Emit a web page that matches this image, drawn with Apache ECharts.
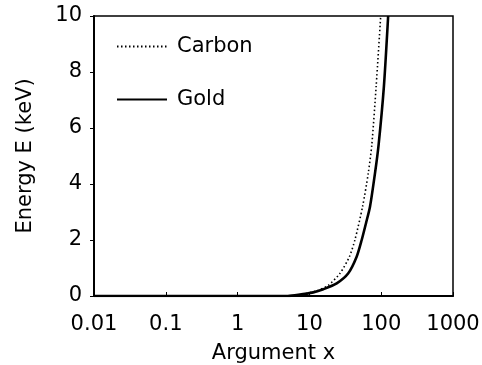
<!DOCTYPE html>
<html>
<head>
<meta charset="utf-8">
<script src="https://cdn.jsdelivr.net/npm/echarts@6/dist/echarts.min.js"></script>
<style>html,body{margin:0;padding:0;background:#fff}#c{width:482px;height:365px}</style>
</head>
<body>
<div id="c"></div>
<script>
var xTicks = ['0.01', '0.1', '1', '10', '100', '1000'];
var yTicks = [0, 2, 4, 6, 8, 10];
var carbonX = [0.01, 5, 7, 12.6, 18.3, 26.7, 36, 43, 55, 66, 74, 85, 98.4];
var carbonY = [0, 0, 0.04, 0.18, 0.38, 0.81, 1.4, 2.0, 3.19, 4.38, 5.4, 7.48, 10];
var goldX = [0.01, 5, 7, 11.3, 15.6, 24, 34.8, 45.5, 53.5, 61.4, 69.8, 81.9, 92, 109, 125];
var goldY = [0, 0, 0.04, 0.13, 0.24, 0.45, 0.81, 1.4, 2.0, 2.6, 3.19, 4.38, 5.4, 7.48, 10];

function pairs(xs, ys) { return xs.map(function (x, i) { return [x, ys[i]]; }); }

var FONT = 'DejaVu Sans';
var chart = echarts.init(document.getElementById('c'));
chart.setOption({
  backgroundColor: '#fff',
  animation: false,
  grid: { left: 94, right: 29, top: 16, bottom: 69, show: true, borderColor: '#000', borderWidth: 1.5,
    backgroundColor: 'transparent', containLabel: false, outerBoundsMode: 'none' },
  legend: {
    orient: 'vertical', left: 111, top: 31, itemWidth: 50, itemHeight: 14, itemGap: 32,
    itemStyle: { color: 'transparent', borderWidth: 0, opacity: 0 },
    textStyle: { fontFamily: FONT, fontSize: 21, color: '#000', padding: [0, 0, 0, 5] },
    data: ['Carbon', 'Gold']
  },
  xAxis: {
    type: 'log', logBase: 10, min: 0.01, max: 1000,
    name: 'Argument x', nameLocation: 'middle', nameGap: 47,
    nameTextStyle: { fontFamily: FONT, fontSize: 21, color: '#000' },
    axisLine: { show: true, lineStyle: { color: '#000', width: 2 } },
    axisTick: { show: true, inside: true, length: 4, lineStyle: { color: '#000' } },
    minorTick: { show: false },
    splitLine: { show: false },
    axisLabel: { fontFamily: FONT, fontSize: 21, color: '#000', margin: 18,
      formatter: function (v) { var s = String(+v.toPrecision(6)); return xTicks.indexOf(s) >= 0 ? s : ''; } }
  },
  yAxis: {
    type: 'value', min: 0, max: 10, interval: 2,
    name: 'Energy E (keV)', nameLocation: 'middle', nameGap: 58, nameRotate: 90,
    nameTextStyle: { fontFamily: FONT, fontSize: 21, color: '#000' },
    axisLine: { show: true, lineStyle: { color: '#000', width: 2 } },
    axisTick: { show: true, length: 4, lineStyle: { color: '#000' } },
    splitLine: { show: false },
    axisLabel: { fontFamily: FONT, fontSize: 21, color: '#000', margin: 12,
      formatter: function (v) { return yTicks.indexOf(v) >= 0 ? String(v) : ''; } }
  },
  series: [
    { name: 'Carbon', type: 'line', data: pairs(carbonX, carbonY), symbol: 'none', smooth: 0.25,
      lineStyle: { color: '#000', width: 1.6, type: [1.5, 2.5] }, itemStyle: { color: '#000' } },
    { name: 'Gold', type: 'line', data: pairs(goldX, goldY), symbol: 'none', smooth: 0.25,
      lineStyle: { color: '#000', width: 2.6 }, itemStyle: { color: '#000' } }
  ]
});
</script>
</body>
</html>
